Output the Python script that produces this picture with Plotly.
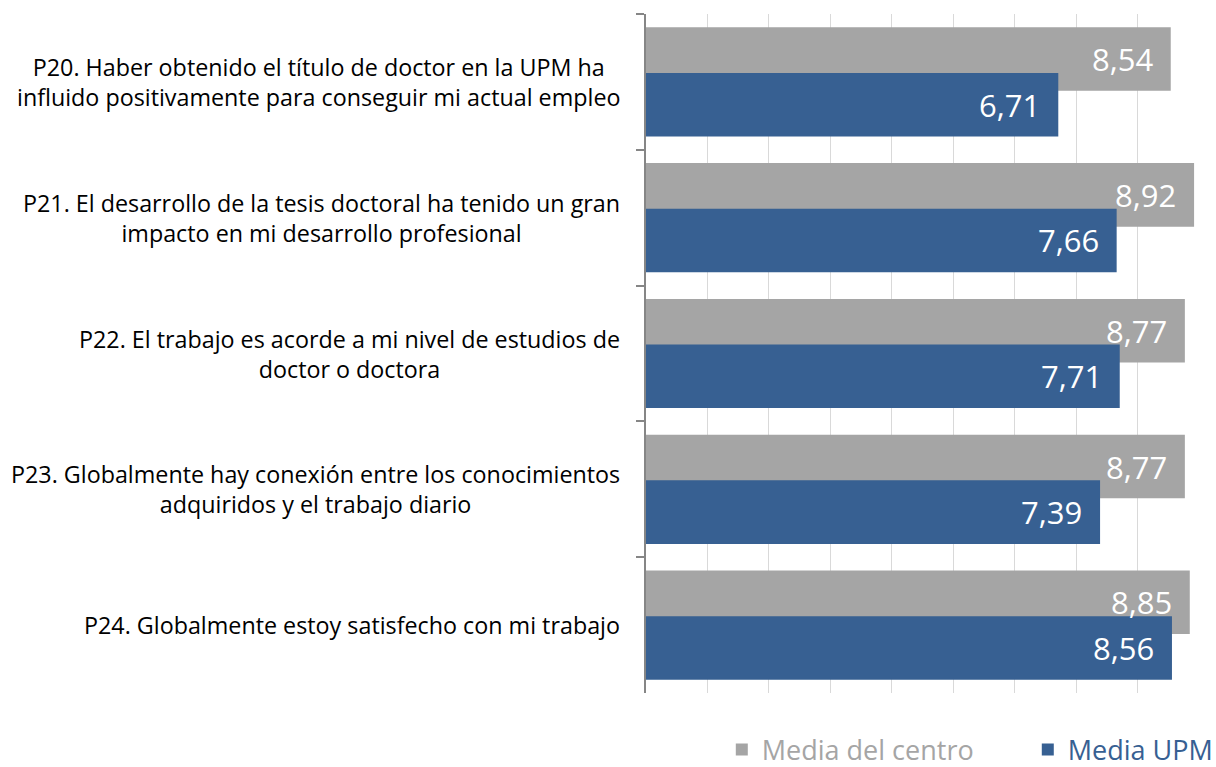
import plotly.graph_objects as go

categories = [
    "P20. Haber obtenido el título de doctor en la UPM ha<br>influido positivamente para conseguir mi actual empleo",
    "P21. El desarrollo de la tesis doctoral ha tenido un gran<br>impacto en mi desarrollo profesional",
    "P22. El trabajo es acorde a mi nivel de estudios de<br>doctor o doctora",
    "P23. Globalmente hay conexión entre los conocimientos<br>adquiridos y el trabajo diario",
    "P24. Globalmente estoy satisfecho con mi trabajo",
]
media_centro = [8.54, 8.92, 8.77, 8.77, 8.85]
media_upm = [6.71, 7.66, 7.71, 7.39, 8.56]
series_names = ["Media del centro", "Media UPM"]

GRAY = "#A5A5A5"
BLUE = "#376092"
FONT = "Open Sans"

def fmt(v):
    return f"{v:.2f}".replace(".", ",")

fig = go.Figure()
fig.add_trace(go.Bar(
    y=categories, x=media_centro, orientation="h",
    name=f"<span style='color:{GRAY}'>{series_names[0]}</span>" + "\u00a0" * 7,
    marker=dict(color=GRAY, line=dict(width=0)),
    width=0.468, offset=-0.402,
))
fig.add_trace(go.Bar(
    y=categories, x=media_upm, orientation="h",
    name=f"<span style='color:{BLUE}'>{series_names[1]}</span>",
    marker=dict(color=BLUE, line=dict(width=0)),
    width=0.468, offset=-0.066,
))

annotations = []
for cat, v in zip(categories, media_centro):
    annotations.append(dict(x=v, y=cat, xref="x", yref="y", text=fmt(v),
                            showarrow=False, xanchor="right", yanchor="middle",
                            xshift=-16, yshift=22.8,
                            font=dict(family=FONT, size=31, color="white")))
for cat, v in zip(categories, media_upm):
    annotations.append(dict(x=v, y=cat, xref="x", yref="y", text=fmt(v),
                            showarrow=False, xanchor="right", yanchor="middle",
                            xshift=-16, yshift=-22.6,
                            font=dict(family=FONT, size=31, color="white")))
for cat in categories:
    annotations.append(dict(x=0, y=cat, xref="paper", yref="y", text=cat,
                            showarrow=False, xanchor="right", yanchor="middle",
                            align="center", xshift=-24,
                            font=dict(family=FONT, size=23.3, color="#000000")))

fig.update_layout(
    width=1216, height=767,
    margin=dict(l=646, r=17, t=14, b=74, pad=0, autoexpand=False),
    paper_bgcolor="white", plot_bgcolor="white",
    barmode="overlay",
    font=dict(family=FONT),
    showlegend=True,
    legend=dict(orientation="h", x=1.034, xanchor="right", y=-0.084, yanchor="middle",
                font=dict(family=FONT, size=27), itemwidth=30,
                traceorder="normal", bgcolor="rgba(0,0,0,0)"),
    annotations=annotations,
    xaxis=dict(range=[0, 9], dtick=1, showgrid=True, gridcolor="#D9D9D9", gridwidth=1,
               zeroline=False, showticklabels=False, showline=False, ticks=""),
    yaxis=dict(type="category", categoryorder="array", categoryarray=categories,
               range=[4.5, -0.5], showticklabels=False, showgrid=False,
               showline=True, linecolor="#868686", linewidth=1.5,
               ticks="outside", tickson="boundaries", ticklen=8, tickcolor="#868686",
               tickwidth=1.5, zeroline=False),
)

fig.write_html("out.html")
